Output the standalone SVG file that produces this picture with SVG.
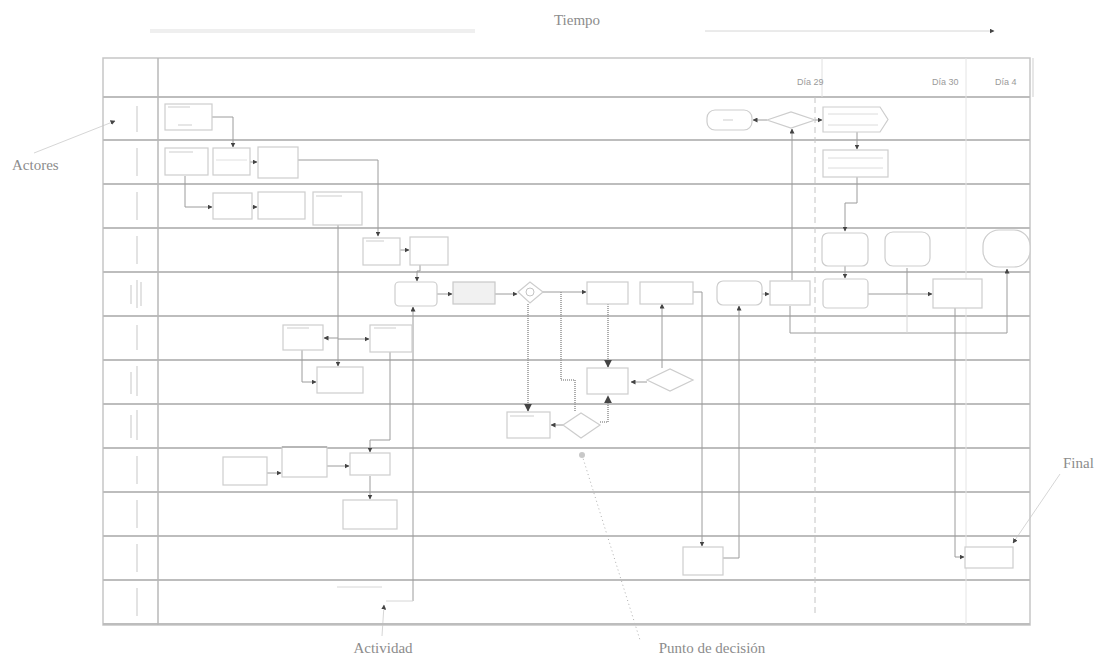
<svg xmlns="http://www.w3.org/2000/svg" width="1110" height="666" viewBox="0 0 1110 666">
<style>
.lbl{font-family:"Liberation Serif",serif;font-size:15px;fill:#8c8c8c}
.day{font-family:"Liberation Sans",sans-serif;font-size:9px;fill:#9a9a9a}
.lane{stroke:#bdbdbd;stroke-width:2}
.frame{fill:none;stroke:#c6c6c6;stroke-width:1.5}
.box{fill:#fff;stroke:#cdcdcd;stroke-width:1.2}
.boxg{fill:#f1f1f1;stroke:#c9c9c9;stroke-width:1.2}
.tx{fill:#e6e6e6}
.conn{fill:none;stroke:#9c9c9c;stroke-width:1}
.dots{fill:none;stroke:#999;stroke-width:1.6;stroke-dasharray:1 1}
.faint{fill:none;stroke:#d6d6d6;stroke-width:1}
.act{stroke:#d0d0d0;stroke-width:1.2}
</style>
<defs>
<marker id="ah" viewBox="0 0 10 10" refX="9" refY="5" markerWidth="5" markerHeight="5" orient="auto"><path d="M0,0 L10,5 L0,10 z" fill="#444"/></marker>
</defs>
<rect width="1110" height="666" fill="#fff"/>

<g id="annotations">
<text class="lbl" x="577" y="25" text-anchor="middle">Tiempo</text>
<line x1="150" y1="31" x2="475" y2="31" stroke="#efefef" stroke-width="4"/>
<line x1="705" y1="31" x2="994" y2="31" class="faint" marker-end="url(#ah)"/>
<text class="lbl" x="12" y="170">Actores</text>
<line x1="34" y1="153" x2="115" y2="121" class="faint" marker-end="url(#ah)"/>
<text class="lbl" x="383" y="653" text-anchor="middle">Actividad</text>
<line x1="382" y1="636" x2="384" y2="605" class="faint" marker-end="url(#ah)"/>
<text class="lbl" x="712" y="653" text-anchor="middle">Punto de decisión</text>
<line x1="582" y1="455" x2="640" y2="640" stroke="#b0b0b0" stroke-width="1" stroke-dasharray="1 3"/>
<circle cx="582" cy="455" r="3" fill="#c8c8c8"/>
<text class="lbl" x="1063" y="468">Final</text>
<line x1="1060" y1="474" x2="1013" y2="543" class="faint" marker-end="url(#ah)"/>
</g>

<g id="grid">
<rect class="frame" x="103" y="58" width="927" height="567"/>
<line class="lane" x1="103" y1="97" x2="1030" y2="97"/>
<line class="lane" x1="103" y1="140" x2="1030" y2="140"/>
<line class="lane" x1="103" y1="184" x2="1030" y2="184"/>
<line class="lane" x1="103" y1="228" x2="1030" y2="228"/>
<line class="lane" x1="103" y1="272" x2="1030" y2="272"/>
<line class="lane" x1="103" y1="316" x2="1030" y2="316"/>
<line class="lane" x1="103" y1="360" x2="1030" y2="360"/>
<line class="lane" x1="103" y1="404" x2="1030" y2="404"/>
<line class="lane" x1="103" y1="448" x2="1030" y2="448"/>
<line class="lane" x1="103" y1="492" x2="1030" y2="492"/>
<line class="lane" x1="103" y1="536" x2="1030" y2="536"/>
<line class="lane" x1="103" y1="580" x2="1030" y2="580"/>
<line class="lane" x1="103" y1="624" x2="1030" y2="624"/>
<line x1="158" y1="58" x2="158" y2="625" stroke="#b8b8b8" stroke-width="1.5"/>
<line x1="822" y1="58" x2="822" y2="97" stroke="#e0e0e0"/>
<line x1="966" y1="58" x2="966" y2="624" stroke="#e4e4e4"/>
<line x1="1033" y1="58" x2="1033" y2="97" stroke="#cfcfcf"/>
<line x1="815" y1="97" x2="815" y2="615" stroke="#c4c4c4" stroke-dasharray="6 4"/>
<text class="day" x="797" y="85">Día 29</text>
<text class="day" x="932" y="85">Día 30</text>
<text class="day" x="995" y="85">Día 4</text>
</g>

<g id="actors">
<line class="act" x1="137" y1="106" x2="137" y2="132"/>
<line class="act" x1="137" y1="148" x2="137" y2="176"/>
<line class="act" x1="137" y1="192" x2="137" y2="220"/>
<line class="act" x1="137" y1="236" x2="137" y2="264"/>
<line class="act" x1="131" y1="285" x2="131" y2="304"/><line class="act" x1="137" y1="280" x2="137" y2="308"/><line class="act" x1="141" y1="282" x2="141" y2="306"/>
<line class="act" x1="137" y1="325" x2="137" y2="350"/>
<line class="act" x1="131" y1="372" x2="131" y2="394"/><line class="act" x1="137" y1="366" x2="137" y2="396"/>
<line class="act" x1="131" y1="415" x2="131" y2="438"/><line class="act" x1="137" y1="410" x2="137" y2="440"/>
<line class="act" x1="137" y1="456" x2="137" y2="484"/>
<line class="act" x1="137" y1="500" x2="137" y2="528"/>
<line class="act" x1="137" y1="544" x2="137" y2="572"/>
<line class="act" x1="137" y1="588" x2="137" y2="616"/>
</g>

<g id="connectors">
<path class="conn" d="M212,117 H233 V147" marker-end="url(#ah)"/>
<path class="conn" d="M185,176 V207 H212" marker-end="url(#ah)"/>
<path class="conn" d="M250,162 H257" marker-end="url(#ah)"/>
<path class="conn" d="M252,207 H257" marker-end="url(#ah)"/>
<path class="conn" d="M298,160 H378 V236" marker-end="url(#ah)"/>
<path class="conn" d="M338,225 V366" marker-end="url(#ah)"/>
<path class="conn" d="M338,338 H324" marker-end="url(#ah)"/>
<path class="conn" d="M338,339 H369" marker-end="url(#ah)"/>
<path class="conn" d="M400,250 H409" marker-end="url(#ah)"/>
<path class="conn" d="M420,265 V271 H417 V281" marker-end="url(#ah)"/>
<path class="conn" d="M413,601 V307" marker-end="url(#ah)"/>
<path class="faint" d="M386,601 H413"/>
<path class="faint" d="M337,587 H382"/>
<path class="conn" d="M437,294 H452" marker-end="url(#ah)"/>
<path class="conn" d="M495,294 H517" marker-end="url(#ah)"/>
<path class="conn" d="M543,292 H586" marker-end="url(#ah)"/>
<path class="conn" d="M762,294 H769" marker-end="url(#ah)"/>
<path class="conn" d="M767,120 H753" marker-end="url(#ah)"/>
<path class="conn" d="M815,120 H822" marker-end="url(#ah)"/>
<path class="conn" d="M792,280 V129" marker-end="url(#ah)"/>
<path class="conn" d="M857,132 V149" marker-end="url(#ah)"/>
<path class="conn" d="M857,177 V203 H845 V231" marker-end="url(#ah)"/>
<path class="conn" d="M845,266 V278" marker-end="url(#ah)"/>
<path class="conn" d="M907,268 V294 H932" marker-end="url(#ah)"/>
<path class="conn" d="M868,294 H907"/>
<path class="conn" d="M790,306 V333 H1007 V269" marker-end="url(#ah)"/>
<path class="faint" d="M907,294 V333"/>
<path class="conn" d="M955,308 V557 H964" marker-end="url(#ah)"/>
<path class="dots" d="M528,304 V411" marker-end="url(#ah)"/>
<path class="dots" d="M561,292 V380 H575 V412"/>
<path class="dots" d="M608,304 V367" marker-end="url(#ah)"/>
<path class="dots" d="M600,422 H608 V396" marker-end="url(#ah)"/>
<path class="conn" d="M662,368 V304" marker-end="url(#ah)"/>
<path class="conn" d="M647,382 H631" marker-end="url(#ah)"/>
<path class="conn" d="M563,425 H551" marker-end="url(#ah)"/>
<path class="conn" d="M693,292 H702 V546" marker-end="url(#ah)"/>
<path class="conn" d="M723,558 H739 V306" marker-end="url(#ah)"/>
<path class="conn" d="M302,350 V382 H316" marker-end="url(#ah)"/>
<path class="conn" d="M390,352 V440 H370 V452" marker-end="url(#ah)"/>
<path class="conn" d="M327,466 H349" marker-end="url(#ah)"/>
<path class="conn" d="M267,473 H281" marker-end="url(#ah)"/>
<path class="conn" d="M370,476 V499" marker-end="url(#ah)"/>
</g>

<g id="n-l1a"><rect class="box" x="165" y="104" width="47" height="26"/><rect class="tx" x="168" y="106" width="22" height="2"/><rect class="tx" x="178" y="124" width="14" height="2"/></g>
<g id="n-l1-fin"><rect class="box" x="707" y="110" width="45" height="20" rx="8"/><rect class="tx" x="723" y="119" width="10" height="2"/></g>
<g id="n-l1-dec"><polygon class="box" points="767,120 791,112 815,120 791,128"/></g>
<g id="n-l1-doc"><polygon class="box" points="823,107 880,107 888,119.5 880,132 823,132"/><line x1="828" y1="114" x2="878" y2="114" stroke="#dcdcdc"/><line x1="828" y1="125" x2="878" y2="125" stroke="#dcdcdc"/></g>

<g id="n-l2a"><rect class="box" x="165" y="148" width="43" height="27"/><rect class="tx" x="169" y="151" width="24" height="2"/></g>
<g id="n-l2b"><rect class="box" x="213" y="148" width="37" height="27"/><line x1="216" y1="160" x2="247" y2="160" stroke="#e0e0e0"/></g>
<g id="n-l2c"><rect class="box" x="258" y="147" width="40" height="31"/></g>
<g id="n-l2d"><rect class="box" x="823" y="150" width="65" height="27"/><line x1="828" y1="158" x2="883" y2="158" stroke="#dcdcdc"/><line x1="828" y1="168" x2="883" y2="168" stroke="#dcdcdc"/></g>

<g id="n-l3a"><rect class="box" x="213" y="193" width="39" height="26"/></g>
<g id="n-l3b"><rect class="box" x="258" y="192" width="47" height="27"/></g>
<g id="n-l3c"><rect class="box" x="313" y="192" width="49" height="33"/><rect class="tx" x="316" y="195" width="26" height="2"/></g>

<g id="n-l4a"><rect class="box" x="363" y="238" width="37" height="27"/><rect class="tx" x="366" y="240" width="18" height="2"/></g>
<g id="n-l4b"><rect class="box" x="410" y="237" width="38" height="28"/></g>
<g id="n-l4c"><rect class="box" x="822" y="233" width="46" height="33" rx="6"/></g>
<g id="n-l4d"><rect class="box" x="885" y="232" width="45" height="34" rx="8"/></g>
<g id="n-l4e"><rect class="box" x="983" y="230" width="47" height="37" rx="16"/></g>

<g id="n-l5a"><rect class="box" x="395" y="282" width="42" height="24" rx="4"/></g>
<g id="n-l5b"><rect class="boxg" x="453" y="282" width="42" height="22"/></g>
<g id="n-l5-dec"><polygon class="box" points="518,292 530,282 543,292 530,303"/><circle cx="530" cy="292" r="4" fill="none" stroke="#c4c4c4"/></g>
<g id="n-l5c"><rect class="box" x="587" y="282" width="41" height="22"/></g>
<g id="n-l5d"><rect class="box" x="640" y="282" width="53" height="22"/></g>
<g id="n-l5e"><rect class="box" x="717" y="281" width="45" height="24" rx="6"/></g>
<g id="n-l5f"><rect class="box" x="770" y="281" width="40" height="24"/></g>
<g id="n-l5g"><rect class="box" x="823" y="279" width="45" height="29" rx="4"/></g>
<g id="n-l5h"><rect class="box" x="933" y="279" width="49" height="29"/></g>

<g id="n-l6a"><rect class="box" x="283" y="325" width="40" height="25"/><rect class="tx" x="287" y="327" width="22" height="2"/></g>
<g id="n-l6b"><rect class="box" x="370" y="325" width="42" height="27"/><rect class="tx" x="374" y="327" width="22" height="2"/></g>

<g id="n-l7a"><rect class="box" x="317" y="367" width="46" height="26"/></g>
<g id="n-l7b"><rect class="box" x="587" y="368" width="41" height="26"/></g>
<g id="n-l7-dec"><polygon class="box" points="647,380 670,369 693,380 670,391"/></g>

<g id="n-l8a"><rect class="box" x="507" y="412" width="43" height="26"/><rect class="tx" x="510" y="415" width="24" height="2"/></g>
<g id="n-l8-dec"><polygon class="box" points="563,425 581,413 600,425 581,438"/></g>

<g id="n-l9a"><rect class="box" x="223" y="457" width="44" height="28"/></g>
<g id="n-l9b"><rect class="box" x="282" y="447" width="45" height="30"/><line x1="282" y1="447" x2="327" y2="447" stroke="#a8a8a8" stroke-width="1.5"/></g>
<g id="n-l9c"><rect class="box" x="350" y="453" width="40" height="22"/></g>

<g id="n-l10a"><rect class="box" x="343" y="500" width="54" height="29"/></g>

<g id="n-l11a"><rect class="box" x="683" y="547" width="40" height="28"/></g>
<g id="n-l11b"><rect class="box" x="965" y="547" width="48" height="21"/></g>
</svg>
